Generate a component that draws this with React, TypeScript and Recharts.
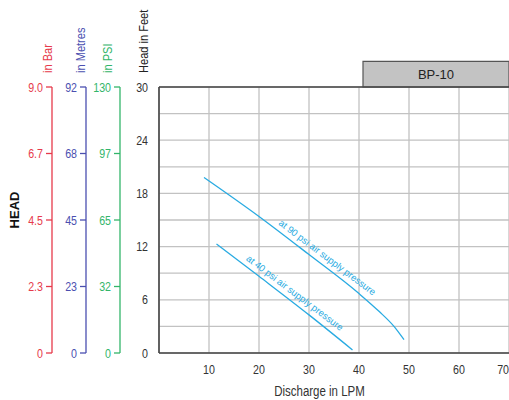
import React from "react";
import {
  LineChart,
  Line,
  XAxis,
  YAxis,
  CartesianGrid,
  ReferenceLine,
  ReferenceArea,
  ReferenceDot,
} from "recharts";

// discharge (LPM) vs head (feet)
const FLOW_90 = [9, 20, 30, 40, 44, 47, 49];
const HEAD_90 = [19.8, 15.4, 11.1, 6.7, 4.7, 3.0, 1.5];
const FLOW_40 = [11.5, 20, 30, 38.7];
const HEAD_40 = [12.3, 8.65, 4.3, 0.35];

const X_TICKS = [10, 20, 30, 40, 50, 60, 70];
const FEET_TICKS = [0, 3, 6, 9, 12, 15, 18, 21, 24, 27, 30];
// converted scales sit at these feet positions
const SCALE_POS = [0, 7.5, 15, 22.5, 30];
const BAR_LABELS = ["0", "2.3", "4.5", "6.7", "9.0"];
const METRE_LABELS = ["0", "23", "45", "68", "92"];
const PSI_LABELS = ["0", "32", "65", "97", "130"];

// Arial Narrow is basically Arial squeezed to 82%
const SANS = "'Liberation Sans', Arial, sans-serif";
const SQUEEZE = 0.82;
const CURVE = "#29abe2";
const RED = "#e63a4b";
const BLUE = "#4b4fb0";
const GREEN = "#33b56a";

const toPoints = (flow: number[], head: number[]) =>
  flow.map((f, i) => ({ flow: f, head: head[i] }));

const data90 = toPoints(FLOW_90, HEAD_90);
const data40 = toPoints(FLOW_40, HEAD_40);

const NarrowText = ({ x, y, rotate = 0, size = 13, color = "#333", anchor = "middle", dy = "0", children }: any) => (
  <text
    transform={`translate(${x},${y}) rotate(${rotate}) scale(${SQUEEZE},1)`}
    fill={color}
    fontSize={size}
    fontFamily={SANS}
    textAnchor={anchor}
    dy={dy}
  >
    {children}
  </text>
);

const axisTitle = (text: string, color: string, dx: number) => (props: any) => {
  const vb = props.viewBox;
  return (
    <NarrowText x={vb.x + vb.width + dx} y={vb.y - 14} rotate={-90} size={13.5} color={color} anchor="start">
      {text}
    </NarrowText>
  );
};

const barTitle = (props: any) => {
  const vb = props.viewBox;
  return (
    <g>
      {axisTitle("in Bar", RED, 0)(props)}
      <text
        transform={`translate(18.5,${vb.y + vb.height / 2 - 10}) rotate(-90)`}
        fill="#111"
        fontSize={13}
        fontWeight="bold"
        fontFamily={SANS}
        textAnchor="middle"
      >
        HEAD
      </text>
    </g>
  );
};

const curveLabel = (text: string) => (props: any) => {
  const vb = props.viewBox;
  return (
    <text
      transform={`translate(${vb.x},${vb.y}) rotate(37)`}
      fill={CURVE}
      fontSize={9.5}
      fontFamily={SANS}
      textAnchor="middle"
      dominantBaseline="central"
    >
      {text}
    </text>
  );
};

const xTick = (props: any) => {
  const { x, y, payload } = props;
  return (
    <NarrowText x={x} y={y} dy="0.71em" anchor={payload.value === 70 ? "end" : "middle"}>
      {payload.value}
    </NarrowText>
  );
};

const yTick = (color: string, fmt: (v: number) => string) => (props: any) => {
  const { x, y, payload } = props;
  return (
    <NarrowText x={x} y={y} dy="0.355em" anchor="end" color={color}>
      {fmt(payload.value)}
    </NarrowText>
  );
};

const xTitle = (props: any) => {
  const vb = props.viewBox;
  return (
    <NarrowText x={vb.x + vb.width / 2 - 14.5} y={vb.y + 43} size={14}>
      Discharge in LPM
    </NarrowText>
  );
};

const scaleFmt = (labels: string[]) => (v: number) => labels[SCALE_POS.indexOf(v)] ?? "";
const feetFmt = (v: number) => (v % 6 === 0 ? String(v) : "");

export default function App() {
  return (
    <div style={{ position: "absolute", left: 0, top: 0, width: 509, height: 400, background: "#fff" }}>
      <LineChart width={509} height={400} margin={{ top: 87, right: 0, bottom: 0, left: 0 }}>
        <CartesianGrid yAxisId="a_ft" stroke="#c2c2c2" strokeWidth={1.3} />
        <XAxis
          dataKey="flow"
          type="number"
          domain={[0, 70]}
          ticks={X_TICKS}
          interval={0}
          allowDataOverflow
          height={47}
          tickLine={false}
          tickSize={6}
          tickMargin={6}
          axisLine={{ stroke: "#444", strokeWidth: 1.6 }}
          tick={xTick}
          label={xTitle}
        />
        {/* axis ids are alphabetical so the feet axis sits next to the plot */}
        <YAxis
          yAxisId="a_ft"
          type="number"
          domain={[0, 30]}
          allowDataOverflow
          ticks={FEET_TICKS}
          interval={0}
          width={39}
          tickLine={false}
          tickSize={6}
          tickMargin={5}
          axisLine={{ stroke: "#444", strokeWidth: 1.6 }}
          tick={yTick("#333", feetFmt)}
          label={axisTitle("Head in Feet", "#222", -11)}
        />
        <YAxis
          yAxisId="b_psi"
          type="number"
          domain={[0, 30]}
          allowDataOverflow
          ticks={SCALE_POS}
          interval={0}
          width={34}
          tickSize={6}
          tickMargin={3}
          axisLine={{ stroke: GREEN, strokeWidth: 1.3 }}
          tickLine={{ stroke: GREEN, strokeWidth: 1.3 }}
          tick={yTick(GREEN, scaleFmt(PSI_LABELS))}
          label={axisTitle("in PSI", GREEN, -8.5)}
        />
        <YAxis
          yAxisId="c_m"
          type="number"
          domain={[0, 30]}
          allowDataOverflow
          ticks={SCALE_POS}
          interval={0}
          width={34}
          tickSize={6}
          tickMargin={3}
          axisLine={{ stroke: BLUE, strokeWidth: 1.3 }}
          tickLine={{ stroke: BLUE, strokeWidth: 1.3 }}
          tick={yTick(BLUE, scaleFmt(METRE_LABELS))}
          label={axisTitle("in Metres", BLUE, -1)}
        />
        <YAxis
          yAxisId="d_bar"
          type="number"
          domain={[0, 30]}
          allowDataOverflow
          ticks={SCALE_POS}
          interval={0}
          width={52}
          tickSize={6}
          tickMargin={3}
          axisLine={{ stroke: RED, strokeWidth: 1.3 }}
          tickLine={{ stroke: RED, strokeWidth: 1.3 }}
          tick={yTick(RED, scaleFmt(BAR_LABELS))}
          label={barTitle}
        />
        <ReferenceLine yAxisId="a_ft" y={30} stroke="#444" strokeWidth={1.4} />
        <ReferenceArea
          yAxisId="a_ft"
          x1={40.8}
          x2={70}
          y1={30}
          y2={32.9}
          ifOverflow="visible"
          fill="#c3c3c3"
          fillOpacity={1}
          stroke="#555"
          strokeWidth={1.2}
          label={{ value: "BP-10", position: "center", fill: "#222", fontSize: 13, fontFamily: SANS }}
        />
        <Line
          yAxisId="a_ft"
          data={data90}
          dataKey="head"
          type="monotone"
          stroke={CURVE}
          strokeWidth={1.3}
          dot={false}
          isAnimationActive={false}
        />
        <Line
          yAxisId="a_ft"
          data={data40}
          dataKey="head"
          type="monotone"
          stroke={CURVE}
          strokeWidth={1.3}
          dot={false}
          isAnimationActive={false}
        />
        <ReferenceDot
          yAxisId="a_ft"
          x={33.7}
          y={10.8}
          r={0}
          fill="none"
          stroke="none"
          label={curveLabel("at 90 psi air  supply pressure")}
        />
        <ReferenceDot
          yAxisId="a_ft"
          x={27.2}
          y={6.8}
          r={0}
          fill="none"
          stroke="none"
          label={curveLabel("at 40 psi air supply pressure")}
        />
      </LineChart>
    </div>
  );
}
